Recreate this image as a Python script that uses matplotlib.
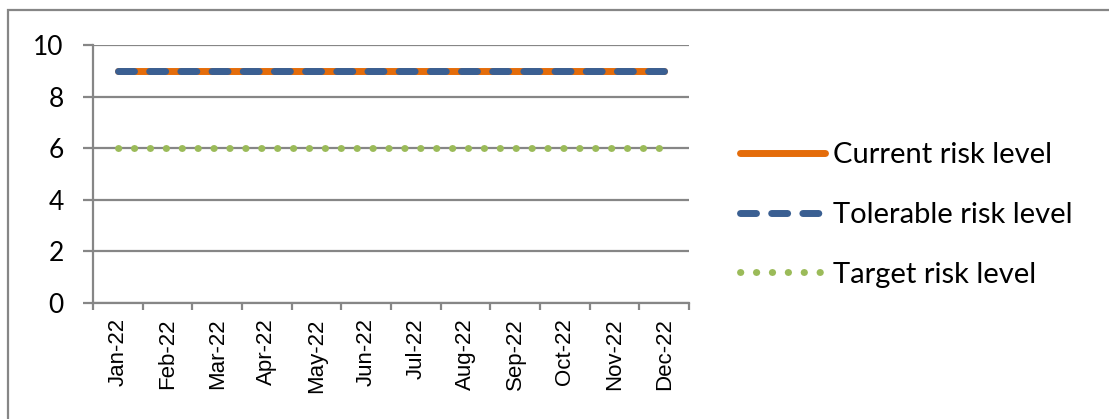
import matplotlib

matplotlib.use("Agg")

import matplotlib.pyplot as plt
from matplotlib.patches import Rectangle

plt.rcParams["font.family"] = ["Lato", "DejaVu Sans"]

months = ["Jan-22", "Feb-22", "Mar-22", "Apr-22", "May-22", "Jun-22",
          "Jul-22", "Aug-22", "Sep-22", "Oct-22", "Nov-22", "Dec-22"]
current_risk = [9, 9, 9, 9, 9, 9, 9, 9, 9, 9, 9, 9]
tolerable_risk = [9, 9, 9, 9, 9, 9, 9, 9, 9, 9, 9, 9]
target_risk = [6, 6, 6, 6, 6, 6, 6, 6, 6, 6, 6, 6]
y_ticks = [0, 2, 4, 6, 8, 10]

GRAY = "#868686"

fig = plt.figure(figsize=(11.09, 4.19), dpi=100)
# outer chart frame (cut off on the right and bottom)
fig.patches.append(Rectangle((8 / 1109, -0.1), 1.2, 1.1 - 10 / 419,
                             transform=fig.transFigure, fill=False,
                             edgecolor=GRAY, linewidth=1.6))

ax = fig.add_axes([93 / 1109, 1 - 303 / 419, 596 / 1109, 258 / 419])
x = list(range(len(months)))

ax.plot(x, current_risk, color="#E46C0A", linewidth=5, solid_capstyle="round",
        label="Current risk level", zorder=3)
ax.plot(x, tolerable_risk, color="#3A5F92", linewidth=5, dashes=(2.3, 2.19),
        dash_capstyle="round", label="Tolerable risk level", zorder=4)
ax.plot(x, target_risk, color="#9BBB59", linewidth=5, dashes=(0.05, 2.24),
        dash_capstyle="round", label="Target risk level", zorder=4)

ax.set_xlim(-0.5, len(months) - 0.5)
ax.set_ylim(0, 10)
ax.set_yticks(y_ticks)
ax.set_yticklabels([str(v) for v in y_ticks], fontsize=19)
ax.yaxis.grid(True, color=GRAY, linewidth=1.6)
ax.set_axisbelow(True)
ax.tick_params(axis="y", length=7, width=1.6, color=GRAY, pad=14)

ax.set_xticks([i - 0.5 for i in range(len(months) + 1)])
ax.set_xticklabels([])
ax.set_xticks(x, minor=True)
ax.set_xticklabels(months, minor=True, rotation=90, fontsize=16,
                   family=["Liberation Sans", "DejaVu Sans"])
ax.tick_params(axis="x", which="major", length=5, width=1.6, color=GRAY)
ax.tick_params(axis="x", which="minor", length=0, pad=11)

for side in ["top", "right"]:
    ax.spines[side].set_visible(False)
for side in ["left", "bottom"]:
    ax.spines[side].set_color(GRAY)
    ax.spines[side].set_linewidth(1.6)

fig.legend(loc="center left", bbox_to_anchor=(740 / 1109, 1 - 215 / 419),
           frameon=False, fontsize=21, handlelength=2.9, borderpad=0,
           borderaxespad=0, handletextpad=0.3, labelspacing=1.15)

fig.savefig("out.png", dpi=100)
